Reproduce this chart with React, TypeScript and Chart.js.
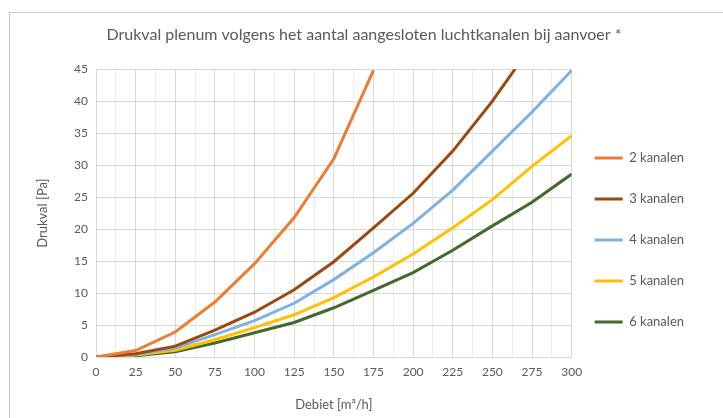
import React, { useEffect, useRef } from 'react';
import { Chart, registerables } from 'chart.js';

Chart.register(...registerables);

// Debiet [m³/h]
const debiet = [0, 25, 50, 75, 100, 125, 150, 175, 200, 225, 250, 275, 300];
// Drukval [Pa]
const kanalen2 = [0, 1.0, 3.9, 8.6, 14.6, 21.8, 31.0, 44.8];
const kanalen3 = [0, 0.5, 1.7, 4.2, 7.0, 10.5, 14.9, 20.2, 25.6, 32.2, 40.0, 48.8];
const kanalen4 = [0, 0.4, 1.4, 3.5, 5.7, 8.4, 12.1, 16.3, 20.9, 26.1, 32.2, 38.3, 44.8];
const kanalen5 = [0, 0.3, 1.05, 2.7, 4.6, 6.6, 9.3, 12.5, 16.1, 20.2, 24.6, 29.8, 34.6];
const kanalen6 = [0, 0.2, 0.8, 2.2, 3.8, 5.4, 7.7, 10.4, 13.2, 16.7, 20.5, 24.2, 28.6];

const seriesLabels = ['2 kanalen', '3 kanalen', '4 kanalen', '5 kanalen', '6 kanalen'];
const seriesValues = [kanalen2, kanalen3, kanalen4, kanalen5, kanalen6];
const seriesColors = ['#ED7D31', '#9E480E', '#7FB2E1', '#FFC000', '#44692C'];

const titleText = 'Drukval plenum volgens het aantal aangesloten luchtkanalen bij aanvoer *';
const xTitle = 'Debiet [m³/h]';
const yTitle = 'Drukval [Pa]';
const xMin = 0, xMax = 300, xMinorStep = 12.5, xLabelStep = 25;
const yMin = 0, yMax = 45, yStep = 5;

const FONT = 'Lato, "Noto Sans", sans-serif';
const TEXT = '#595959';

const legendShift = {
  id: 'legendShift',
  afterLayout(chart: any) {
    const lg = chart.legend;
    if (lg) {
      lg.left -= 5;
      lg.right -= 5;
    }
  },
};

export default function App() {
  const ref = useRef<HTMLCanvasElement | null>(null);

  useEffect(() => {
    if (!ref.current) return;
    const datasets = seriesLabels.map((label, i) => ({
      label,
      data: seriesValues[i].map((v, j) => ({ x: debiet[j], y: v })),
      borderColor: seriesColors[i],
      backgroundColor: seriesColors[i],
      borderWidth: 3,
      pointRadius: 0,
      tension: 0,
    }));
    const chart = new Chart(ref.current, {
      type: 'line',
      data: { datasets },
      plugins: [legendShift],
      options: {
        animation: false,
        responsive: false,
        layout: { padding: { left: 20, right: 30, top: 0, bottom: 0 } },
        plugins: {
          title: {
            display: true,
            text: titleText,
            color: TEXT,
            font: { family: FONT, size: 16, weight: 'normal' },
            padding: { top: 13, bottom: 25 },
          },
          legend: {
            position: 'right',
            align: 'center',
            title: {
              display: true,
              text: ' ',
              font: { family: FONT, size: 10, lineHeight: '10px' },
              padding: { top: 20, bottom: 20 },
            },
            labels: {
              usePointStyle: true,
              pointStyle: 'line',
              pointStyleWidth: 28,
              boxHeight: 13,
              padding: 28,
              color: TEXT,
              font: { family: FONT, size: 13 },
            },
          },
          tooltip: { enabled: false },
        },
        scales: {
          x: {
            type: 'linear',
            min: xMin,
            max: xMax,
            afterFit: (s: any) => { s.height = 61; },
            ticks: {
              stepSize: xMinorStep,
              autoSkip: false,
              maxRotation: 0,
              padding: 8,
              color: TEXT,
              font: { family: FONT, size: 12 },
              callback: (v: any) => (Number(v) % xLabelStep === 0 ? String(v) : ''),
            },
            grid: {
              drawTicks: false,
              color: (ctx: any) => (ctx.tick && ctx.tick.value % xLabelStep === 0 ? '#d9d9d9' : '#ececec'),
            },
            border: { color: '#d9d9d9' },
            title: {
              display: true,
              text: xTitle,
              color: TEXT,
              font: { family: FONT, size: 13 },
              padding: { top: 0, bottom: 5 },
            },
          },
          y: {
            type: 'linear',
            min: yMin,
            max: yMax,
            afterFit: (s: any) => { s.width = 67; },
            ticks: {
              stepSize: yStep,
              padding: 8,
              color: TEXT,
              font: { family: FONT, size: 12 },
            },
            grid: { drawTicks: false, color: '#d9d9d9' },
            border: { color: '#d9d9d9' },
            title: {
              display: true,
              text: yTitle,
              color: TEXT,
              font: { family: FONT, size: 13 },
              padding: { top: 6, bottom: 0 },
            },
          },
        },
      },
    });
    return () => chart.destroy();
  }, []);

  return (
    <div style={{ position: 'fixed', inset: 0, overflow: 'hidden', background: '#fff' }}>
      <div
        style={{
          position: 'absolute',
          left: 9,
          top: 12,
          width: 730,
          height: 420,
          border: '1px solid #c8c8c8',
          boxSizing: 'border-box',
        }}
      />
      <canvas
        ref={ref}
        width={720}
        height={406}
        style={{ position: 'absolute', left: 9, top: 12, width: 720, height: 406 }}
      />
    </div>
  );
}
